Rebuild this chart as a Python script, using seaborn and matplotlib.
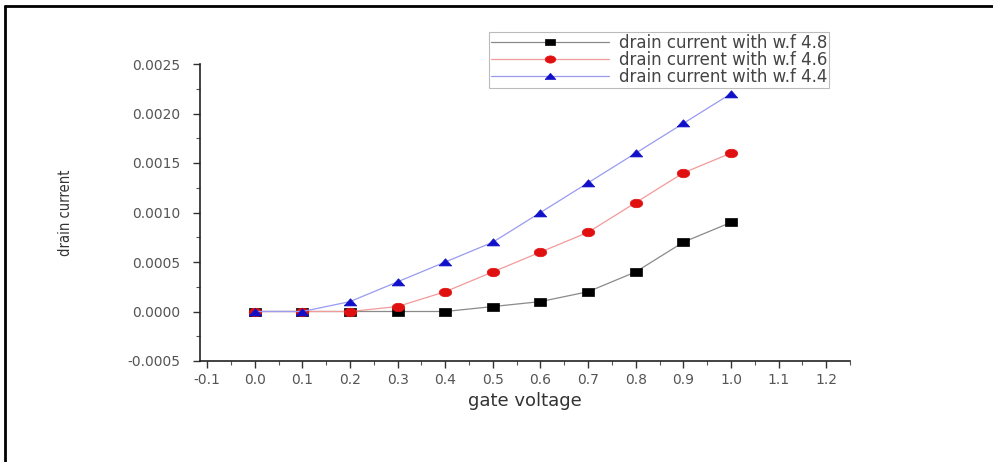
import seaborn as sns
import pandas as pd
import numpy as np
import matplotlib
matplotlib.use("Agg")
import matplotlib.pyplot as plt
from matplotlib.lines import Line2D
from matplotlib.ticker import MultipleLocator, FormatStrFormatter

# gate voltage (V)
gate_voltage = [0.0, 0.1, 0.2, 0.3, 0.4, 0.5, 0.6, 0.7, 0.8, 0.9, 1.0]

# drain current for each work function
id_wf48 = [0.0, 0.0, 0.0, 0.0, 0.0, 0.00005, 0.0001, 0.0002, 0.0004, 0.0007, 0.0009]
id_wf46 = [0.0, 0.0, 0.0, 0.00005, 0.0002, 0.0004, 0.0006, 0.0008, 0.0011, 0.0014, 0.0016]
id_wf44 = [0.0, 0.0, 0.0001, 0.0003, 0.0005, 0.0007, 0.0010, 0.0013, 0.0016, 0.0019, 0.0022]

labels = ["drain current with w.f 4.8",
          "drain current with w.f 4.6",
          "drain current with w.f 4.4"]

x_ticks = [-0.1, 0.0, 0.1, 0.2, 0.3, 0.4, 0.5, 0.6, 0.7, 0.8, 0.9, 1.0, 1.1, 1.2]
y_ticks = [-0.0005, 0.0, 0.0005, 0.0010, 0.0015, 0.0020, 0.0025]

sns.set_style("ticks")
plt.rcParams['font.family'] = ['DejaVu Sans']

# markers in the original are stretched sideways
sq_marker = [(-1, -0.62), (1, -0.62), (1, 0.62), (-1, 0.62), (-1, -0.62)]
t = np.linspace(0, 2 * np.pi, 40)
ell_marker = list(zip(np.cos(t), 0.68 * np.sin(t)))
tri_marker = [(-1, -0.55), (1, -0.55), (0, 0.6), (-1, -0.55)]

fig = plt.figure(figsize=(9.93, 4.62), dpi=100)
ax = fig.add_axes([200 / 993, 1 - 361 / 462, 650 / 993, 297 / 462])

# (series, line colour, marker colour, marker)
series = [
    (id_wf48, "#8a8a8a", "black", sq_marker),
    (id_wf46, "#f29a9a", "#e01010", ell_marker),
    (id_wf44, "#9a9af0", "#1010c8", tri_marker),
]

for (vals, lc, mc, mk), lab in zip(series, labels):
    df = pd.DataFrame({"vg": gate_voltage, "id": vals})
    sns.lineplot(data=df, x="vg", y="id", ax=ax, color=lc, linewidth=0.9,
                 marker=mk, markersize=9, markerfacecolor=mc,
                 markeredgecolor=mc, markeredgewidth=0.5, label=lab)

ax.set_xlim(-0.115, 1.25)
ax.set_ylim(-0.0005, 0.0025)
ax.set_xticks(x_ticks)
ax.set_yticks(y_ticks)
ax.xaxis.set_minor_locator(MultipleLocator(0.05))
ax.yaxis.set_minor_locator(MultipleLocator(0.00025))
ax.xaxis.set_major_formatter(FormatStrFormatter('%.1f'))
ax.yaxis.set_major_formatter(FormatStrFormatter('%.4f'))

for s in ["top", "right"]:
    ax.spines[s].set_visible(False)
for s in ["left", "bottom"]:
    ax.spines[s].set_color("#222222")
    ax.spines[s].set_linewidth(1.2)

ax.tick_params(which="major", direction="out", length=5, width=1, color="#333333",
               labelsize=10, labelcolor="#555555")
ax.tick_params(axis="y", which="major", pad=9)
ax.tick_params(which="minor", direction="out", length=3, width=0.8, color="#555555")

ax.set_xlabel("gate voltage", fontsize=13, color="#333333", labelpad=4)
ax.set_ylabel("drain current", fontsize=10.5, color="#333333", fontstretch="condensed",
              family=['Liberation Sans Narrow', 'DejaVu Sans Condensed', 'DejaVu Sans'],
              labelpad=39)

leg = ax.legend(loc="upper right", bbox_to_anchor=(829 / 993, 1 - 32 / 462),
                bbox_transform=fig.transFigure, frameon=True, fancybox=False,
                fontsize=12, handlelength=7.1, handletextpad=0.6,
                borderpad=0.1, labelspacing=-0.05, borderaxespad=0, markerscale=0.85)
leg.get_frame().set_edgecolor("#aaaaaa")
leg.get_frame().set_linewidth(0.8)
for txt in leg.get_texts():
    txt.set_color("#444444")

# page border (left and top only)
fig.add_artist(Line2D([5 / 993, 5 / 993], [0, 1 - 6 / 462], transform=fig.transFigure,
                      color="black", linewidth=2))
fig.add_artist(Line2D([5 / 993, 1], [1 - 6 / 462, 1 - 6 / 462], transform=fig.transFigure,
                      color="black", linewidth=2))

fig.savefig("out.png", dpi=100)
